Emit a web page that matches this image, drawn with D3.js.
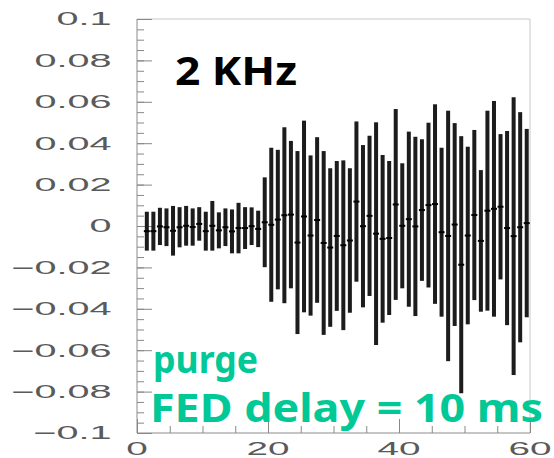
<html>
<head>
<meta charset="utf-8">
<script src="https://cdn.jsdelivr.net/npm/d3@7/dist/d3.min.js"></script>
<style>
    body { margin: 0; background: #fff; }
    .tick line { stroke: #888; stroke-width: 1px; }
    text.lbl { font-family: "Liberation Sans", Arial, sans-serif; font-size: 18px; fill: #5a5a5a; }
    text.note { font-family: "Comic Sans MS", "Noto Sans", sans-serif; font-weight: bold; }
</style>
</head>
<body>
<script>

    // bin centres along x
    var bins = [1.5, 2.5, 3.5, 4.5, 5.5, 6.5, 7.5, 8.5, 9.5, 10.5,
        11.5, 12.5, 13.5, 14.5, 15.5, 16.5, 17.5, 18.5, 19.5, 20.5,
        21.5, 22.5, 23.5, 24.5, 25.5, 26.5, 27.5, 28.5, 29.5, 30.5,
        31.5, 32.5, 33.5, 34.5, 35.5, 36.5, 37.5, 38.5, 39.5, 40.5,
        41.5, 42.5, 43.5, 44.5, 45.5, 46.5, 47.5, 48.5, 49.5, 50.5,
        51.5, 52.5, 53.5, 54.5, 55.5, 56.5, 57.5, 58.5, 59.5];

    // bin content (mean)
    var means = [-0.0025, -0.0025, -0.0002, -0.0006, -0.0023, -0.0006, 0.0001, -0.0005, 0.0010, -0.0025,
        0.0001, -0.0021, -0.0006, -0.0026, -0.0010, -0.0010, -0.0001, -0.0014, 0.0018, 0.0006,
        0.0031, 0.0052, 0.0055, -0.0080, 0.0046, -0.0046, 0.0029, -0.0082, -0.0104, -0.0048,
        -0.0093, -0.0070, 0.0118, -0.0001, 0.0049, -0.0037, -0.0062, -0.0058, 0.0104, 0.0001,
        0.0033, -0.0002, 0.0077, 0.0101, 0.0106, -0.0030, -0.0048, 0.0007, -0.0187, -0.0046,
        0.0053, -0.0072, 0.0074, 0.0083, 0.0093, -0.0010, -0.0049, -0.0006, 0.0014];

    // bin error
    var errors = [0.0094, 0.0094, 0.0090, 0.0091, 0.0120, 0.0097, 0.0096, 0.0090, 0.0081, 0.0094,
        0.0120, 0.0087, 0.0091, 0.0106, 0.0122, 0.0101, 0.0091, 0.0088, 0.0217, 0.0372,
        0.0337, 0.0425, 0.0356, 0.0442, 0.0463, 0.0387, 0.0400, 0.0444, 0.0383, 0.0362,
        0.0410, 0.0349, 0.0387, 0.0392, 0.0387, 0.0538, 0.0405, 0.0372, 0.0461, 0.0302,
        0.0423, 0.0433, 0.0342, 0.0398, 0.0482, 0.0408, 0.0605, 0.0490, 0.0621, 0.0429,
        0.0411, 0.0342, 0.0483, 0.0521, 0.0351, 0.0469, 0.0671, 0.0556, 0.0455];

    var yTicks = [0.1, 0.08, 0.06, 0.04, 0.02, 0, -0.02, -0.04, -0.06, -0.08, -0.1];
    var yTickLabels = ["0.1", "0.08", "0.06", "0.04", "0.02", "0",
        "\u22120.02", "\u22120.04", "\u22120.06", "\u22120.08", "\u22120.1"];
    var xTicks = [0, 20, 40, 60];
    var xTickLabels = ["0", "20", "40", "60"];

    var width = 554,
        height = 458;

    var frameL = 137, frameR = 530, frameT = 19, frameB = 433;

    var x = d3.scaleLinear().domain([0, 60]).range([frameL, frameR]);
    var y = d3.scaleLinear().domain([-0.1, 0.1]).range([frameB, frameT]);

    var svg = d3.select("body").append("svg")
        .attr("width", width)
        .attr("height", height);

    // frame
    svg.append("line").attr("x1", frameL).attr("x2", frameR).attr("y1", frameT).attr("y2", frameT)
        .attr("stroke", "#c8c8c8");
    svg.append("line").attr("x1", frameR).attr("x2", frameR).attr("y1", frameT).attr("y2", frameB)
        .attr("stroke", "#c8c8c8");
    svg.append("line").attr("x1", frameL).attr("x2", frameL).attr("y1", frameT).attr("y2", frameB)
        .attr("stroke", "#8c8c8c");
    svg.append("line").attr("x1", frameL).attr("x2", frameR).attr("y1", frameB).attr("y2", frameB)
        .attr("stroke", "#8c8c8c");

    // inward ticks
    var yMinor = d3.range(-0.1, 0.1001, 0.005);
    var xMinor = d3.range(0, 60.01, 5);

    svg.append("g").attr("transform", "translate(" + frameL + ",0)")
        .call(d3.axisRight(y).tickValues(yMinor).tickSize(7).tickFormat(""))
        .call(function (g) { g.select(".domain").remove(); });
    svg.append("g").attr("transform", "translate(" + frameL + ",0)")
        .call(d3.axisRight(y).tickValues(yTicks).tickSize(15).tickFormat(""))
        .call(function (g) { g.select(".domain").remove(); });
    svg.append("g").attr("transform", "translate(0," + frameB + ")")
        .call(d3.axisTop(x).tickValues(xMinor).tickSize(7).tickFormat(""))
        .call(function (g) { g.select(".domain").remove(); });
    svg.append("g").attr("transform", "translate(0," + frameB + ")")
        .call(d3.axisTop(x).tickValues(xTicks).tickSize(14).tickFormat(""))
        .call(function (g) { g.select(".domain").remove(); });

    // stretched tick labels
    svg.selectAll(".ylbl")
        .data(yTicks)
        .enter()
        .append("g")
        .attr("transform", function (d) { return "translate(111.5," + y(d) + ") scale(2.2,1)"; })
        .append("text")
        .attr("class", "lbl")
        .attr("text-anchor", "end")
        .attr("dy", "0.36em")
        .text(function (d, i) { return yTickLabels[i]; });

    svg.selectAll(".xlbl")
        .data(xTicks)
        .enter()
        .append("g")
        .attr("transform", function (d) { return "translate(" + x(d) + ",455) scale(2.15,1)"; })
        .append("text")
        .attr("class", "lbl")
        .attr("text-anchor", "middle")
        .text(function (d, i) { return xTickLabels[i]; });

    // error bars
    var data = bins.map(function (b, i) {
        return {x: b, m: means[i], e: errors[i]};
    });

    svg.append("g")
        .selectAll("rect")
        .data(data)
        .enter()
        .append("rect")
        .attr("x", function (d) { return x(d.x) - 2; })
        .attr("width", 4)
        .attr("y", function (d) { return y(d.m + d.e); })
        .attr("height", function (d) { return y(d.m - d.e) - y(d.m + d.e); })
        .attr("fill", "#1c1c1c");

    svg.append("g")
        .selectAll("rect")
        .data(data)
        .enter()
        .append("rect")
        .attr("x", function (d) { return x(d.x) - 3; })
        .attr("width", 6)
        .attr("y", function (d) { return y(d.m) - 1; })
        .attr("height", 2)
        .attr("fill", "#000");

    // annotations
    svg.append("text")
        .attr("class", "note")
        .attr("x", 175)
        .attr("y", 85)
        .attr("font-size", 40)
        .attr("textLength", 122)
        .attr("lengthAdjust", "spacingAndGlyphs")
        .attr("fill", "#000")
        .text("2 KHz");

    svg.append("text")
        .attr("class", "note")
        .attr("x", 153)
        .attr("y", 373)
        .attr("font-size", 38)
        .attr("textLength", 105)
        .attr("lengthAdjust", "spacingAndGlyphs")
        .attr("fill", "#00c896")
        .text("purge");

    svg.append("text")
        .attr("class", "note")
        .attr("x", 150)
        .attr("y", 422)
        .attr("font-size", 40)
        .attr("textLength", 393)
        .attr("lengthAdjust", "spacingAndGlyphs")
        .attr("fill", "#00c896")
        .text("FED delay = 10 ms");

</script>
</body>
</html>
